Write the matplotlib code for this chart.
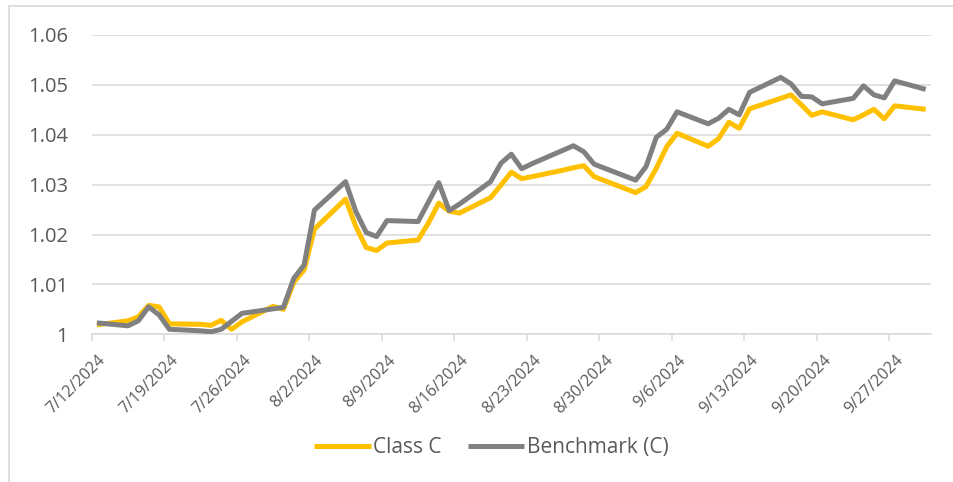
import pandas as pd
import matplotlib
matplotlib.use("Agg")
import matplotlib.pyplot as plt
import matplotlib.dates as mdates
import matplotlib.ticker as mticker
import matplotlib.transforms as mtransforms
from matplotlib.lines import Line2D

plt.rcParams["font.family"] = ["Open Sans", "DejaVu Sans"]

dates = [
    "2024-07-12",
    "2024-07-15", "2024-07-16", "2024-07-17", "2024-07-18", "2024-07-19",
    "2024-07-22", "2024-07-23", "2024-07-24", "2024-07-25", "2024-07-26",
    "2024-07-29", "2024-07-30", "2024-07-31", "2024-08-01", "2024-08-02",
    "2024-08-05", "2024-08-06", "2024-08-07", "2024-08-08", "2024-08-09",
    "2024-08-12", "2024-08-13", "2024-08-14", "2024-08-15", "2024-08-16",
    "2024-08-19", "2024-08-20", "2024-08-21", "2024-08-22", "2024-08-23",
    "2024-08-26", "2024-08-27", "2024-08-28", "2024-08-29", "2024-08-30",
    "2024-09-02", "2024-09-03", "2024-09-04", "2024-09-05", "2024-09-06",
    "2024-09-09", "2024-09-10", "2024-09-11", "2024-09-12", "2024-09-13",
    "2024-09-16", "2024-09-17", "2024-09-18", "2024-09-19", "2024-09-20",
    "2024-09-23", "2024-09-24", "2024-09-25", "2024-09-26", "2024-09-27",
    "2024-09-30",
]

class_c = [
    1.0019,
    1.0027, 1.0035, 1.0058, 1.0055, 1.0021,
    1.0020, 1.0018, 1.0028, 1.0010, 1.0025,
    1.0056, 1.0050, 1.0104, 1.0129, 1.0211,
    1.0271, 1.0216, 1.0174, 1.0168, 1.0183,
    1.0189, 1.0223, 1.0263, 1.0247, 1.0243,
    1.0274, 1.0299, 1.0325, 1.0312, 1.0316,
    1.0329, 1.0334, 1.0338, 1.0316, 1.0308,
    1.0284, 1.0296, 1.0333, 1.0376, 1.0403,
    1.0377, 1.0392, 1.0425, 1.0413, 1.0452,
    1.0473, 1.0480, 1.0460, 1.0439, 1.0446,
    1.0430, 1.0440, 1.0451, 1.0432, 1.0458,
    1.0451,
]

benchmark_c = [
    1.0023,
    1.0017, 1.0027, 1.0055, 1.0039, 1.0010,
    1.0007, 1.0005, 1.0010, 1.0026, 1.0042,
    1.0051, 1.0054, 1.0112, 1.0139, 1.0249,
    1.0306, 1.0246, 1.0204, 1.0196, 1.0228,
    1.0226, 1.0265, 1.0304, 1.0248, 1.0261,
    1.0306, 1.0343, 1.0361, 1.0332, 1.0342,
    1.0369, 1.0378, 1.0366, 1.0341, 1.0333,
    1.0309, 1.0336, 1.0395, 1.0411, 1.0446,
    1.0422, 1.0433, 1.0451, 1.0440, 1.0485,
    1.0515, 1.0502, 1.0477, 1.0476, 1.0462,
    1.0473, 1.0498, 1.0480, 1.0474, 1.0508,
    1.0491,
]

tick_dates = ["2024-07-12", "2024-07-19", "2024-07-26", "2024-08-02", "2024-08-09",
              "2024-08-16", "2024-08-23", "2024-08-30", "2024-09-06", "2024-09-13",
              "2024-09-20", "2024-09-27"]

GRID = "#d9d9d9"
TEXT = "#595959"

# Excel date axis, points sit in the middle of each day slot
x = pd.to_datetime(dates) + pd.Timedelta(hours=12)

fig = plt.figure(figsize=(9.54, 4.82), dpi=100)
fig.patch.set_facecolor("white")
ax = fig.add_axes([91.7 / 954, 1 - 334.3 / 482, (930.9 - 91.7) / 954, (334.3 - 35) / 482])

ax.plot(x, class_c, color="#ffc000", linewidth=3.6, label="Class C",
        solid_joinstyle="round", solid_capstyle="butt", zorder=3)
ax.plot(x, benchmark_c, color="#808080", linewidth=3.6, label="Benchmark (C)",
        solid_joinstyle="round", solid_capstyle="butt", zorder=4)

ax.set_ylim(1.0, 1.06)
ax.set_xlim(pd.Timestamp("2024-07-12"), pd.Timestamp("2024-10-01"))
ax.yaxis.set_major_locator(mticker.MultipleLocator(0.01))
ax.yaxis.set_major_formatter(mticker.FuncFormatter(lambda v, _: f"{v:.2f}".rstrip("0").rstrip(".")))
ax.grid(axis="y", color=GRID, linewidth=1.1)
ax.set_axisbelow(True)

ax.set_xticks(pd.to_datetime(tick_dates))
ax.xaxis.set_major_formatter(mdates.DateFormatter("%-m/%-d/%Y"))
ax.tick_params(axis="x", colors=GRID, length=5, width=1.1, pad=8)
ax.tick_params(axis="y", length=0, pad=17)
shift = mtransforms.ScaledTranslation(6 / 100, 0, fig.dpi_scale_trans)
for lab in ax.get_xticklabels():
    lab.set_rotation(45)
    lab.set_ha("right")
    lab.set_va("top")
    lab.set_rotation_mode("anchor")
    lab.set_color(TEXT)
    lab.set_fontsize(11.5)
    lab.set_transform(lab.get_transform() + shift)
for lab in ax.get_yticklabels():
    lab.set_color(TEXT)
    lab.set_fontsize(14.5)

for side in ["top", "right", "left"]:
    ax.spines[side].set_visible(False)
ax.spines["bottom"].set_color(GRID)
ax.spines["bottom"].set_linewidth(1.1)

leg = fig.legend(loc="center", bbox_to_anchor=(0.515, 1 - 447.7 / 482), ncol=2, frameon=False,
                 fontsize=15, handlelength=2.7, handletextpad=0.1, columnspacing=1.3)
for t in leg.get_texts():
    t.set_color(TEXT)

# outer chart frame (only left and top edges show in the crop)
fig.add_artist(Line2D([9.5 / 954, 9.5 / 954], [0, 1 - 6 / 482], transform=fig.transFigure,
                      color=GRID, linewidth=1.2))
fig.add_artist(Line2D([9.5 / 954, 1], [1 - 6 / 482, 1 - 6 / 482], transform=fig.transFigure,
                      color=GRID, linewidth=1.2))

fig.savefig("out.png", dpi=100, facecolor="white")
